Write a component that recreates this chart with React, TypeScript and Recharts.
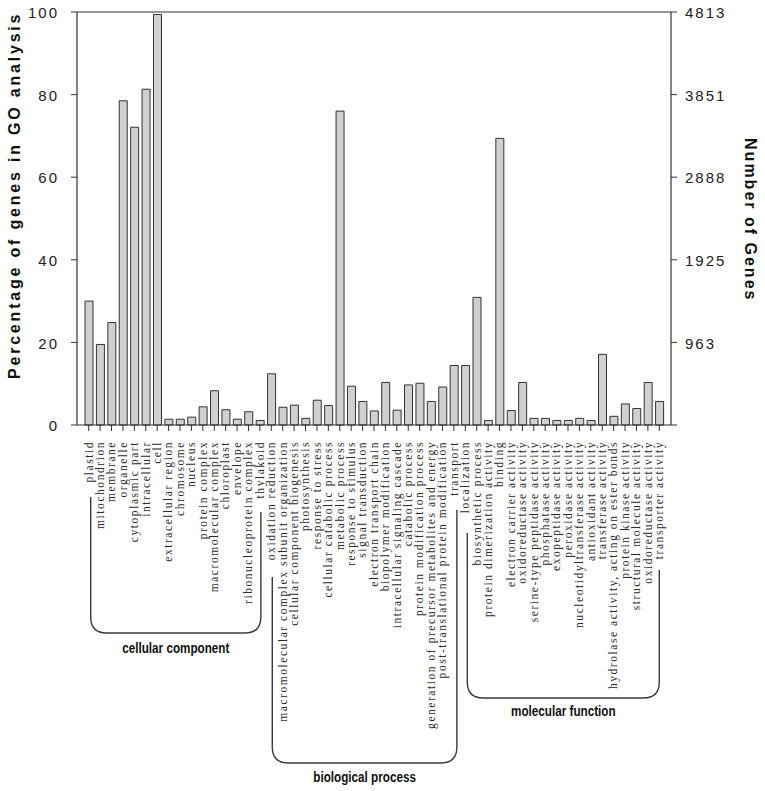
import React from 'react';
import { ComposedChart, Bar, Line, XAxis, YAxis, ReferenceLine } from 'recharts';

// ---- data ----
const categories: string[] = [
  'plastid', 'mitochondrion', 'membrane', 'organelle', 'cytoplasmic part', 'intracellular', 'cell',
  'extracellular region', 'chromosome', 'nucleus', 'protein complex', 'macromolecular complex',
  'chloroplast', 'envelope', 'ribonucleoprotein complex', 'thylakoid',
  'oxidation reduction', 'macromolecular complex subunit organization', 'cellular component biogenesis',
  'photosynthesis', 'response to stress', 'cellular catabolic process', 'metabolic process',
  'response to stimulus', 'signal transduction', 'electron transport chain', 'biopolymer modification',
  'intracellular signaling cascade', 'catabolic process', 'protein modification process',
  'generation of precursor metabolites and energy', 'post-translational protein modification',
  'transport', 'localization', 'biosynthetic process',
  'protein dimerization activity', 'binding', 'electron carrier activity', 'oxidoreductase activity',
  'serine-type peptidase activity', 'phosphatase activity', 'exopeptidase activity', 'peroxidase activity',
  'nucleotidyltransferase activity', 'antioxidant activity', 'transferase activity',
  'hydrolase activity, acting on ester bonds', 'protein kinase activity', 'structural molecule activity',
  'oxidoreductase activity', 'transporter activity',
];

const percentages: number[] = [
  30.0, 19.5, 24.8, 78.5, 72.1, 81.3, 99.4,
  1.4, 1.4, 1.9, 4.4, 8.3,
  3.7, 1.4, 3.2, 1.1,
  12.4, 4.3, 4.8,
  1.6, 6.0, 4.7, 76.0,
  9.4, 5.7, 3.4, 10.3,
  3.6, 9.7, 10.1,
  5.7, 9.2,
  14.4, 14.4, 30.9,
  1.1, 69.4, 3.5, 10.3,
  1.6, 1.6, 1.1, 1.1,
  1.6, 1.1, 17.1,
  2.1, 5.1, 4.0,
  10.3, 5.7,
];

const percentTicks: number[] = [0, 20, 40, 60, 80, 100];
const geneTickLabels: string[] = ['', '963', '1925', '2888', '3851', '4813'];

const groupNames: string[] = ['cellular component', 'biological process', 'molecular function'];
const groupFirst: number[] = [0, 16, 33];
const groupLast: number[] = [15, 32, 50];

// ---- layout / style (not data) ----
const bracketLayout = [
  { dxL: 2, dxR: 1, yL: 497, yR: 512, yB: 633, labelY: 653 },
  { dxL: 1, dxR: 3, yL: 577, yR: 510, yB: 763, labelY: 782 },
  { dxL: 2, dxR: 0, yL: 533, yR: 570, yB: 698, labelY: 716 },
];

const data = categories.map((name, i) => ({ key: String(i), name, pct: percentages[i] }));

const tickXs: Record<number, number> = {};

const AXIS = '#333333';

function CategoryTick(props: any) {
  const { x, y, index } = props;
  tickXs[index] = x;
  const label = categories[index];
  const parts: React.ReactNode[] = [
    <text
      key="t"
      transform={`translate(${x},${y + 8}) rotate(-90)`}
      textAnchor="end"
      dy="0.33em"
      fontFamily="'Liberation Serif', 'Times New Roman', serif"
      fontSize={11.5}
      fill="#2a2a2a"
      style={{ letterSpacing: '1.55px' }}
    >
      {label}
    </text>,
  ];
  const g = groupLast.indexOf(index);
  if (g >= 0 && tickXs[groupFirst[g]] !== undefined) {
    const lay = bracketLayout[g];
    const L = tickXs[groupFirst[g]] + lay.dxL;
    const R = x + lay.dxR;
    const r = 16;
    const d = `M ${L} ${lay.yL} V ${lay.yB - r} Q ${L} ${lay.yB} ${L + r} ${lay.yB} H ${R - r} Q ${R} ${lay.yB} ${R} ${lay.yB - r} V ${lay.yR}`;
    const cx = (L + R) / 2;
    parts.push(<path key="b" d={d} fill="none" stroke="#3a3a3a" strokeWidth={1.4} />);
    parts.push(
      <text
        key="l"
        transform={`translate(${cx},${lay.labelY}) scale(0.78,1)`}
        textAnchor="middle"
        fontFamily="'Liberation Sans', Arial, sans-serif"
        fontWeight="bold"
        fontSize={15}
        fill="#111"
      >
        {groupNames[g]}
      </text>
    );
  }
  return <g>{parts}</g>;
}

function LeftTick(props: any) {
  const { x, y, payload } = props;
  return (
    <text
      x={x}
      y={y + 1}
      textAnchor="end"
      dy="0.35em"
      fontFamily="'Liberation Sans', Arial, sans-serif"
      fontSize={15}
      fill="#222"
      style={{ letterSpacing: '2px' }}
    >
      {payload.value}
    </text>
  );
}

function RightTick(props: any) {
  const { x, y, payload } = props;
  const idx = percentTicks.indexOf(payload.value);
  return (
    <text
      x={x}
      y={y + 1}
      textAnchor="start"
      dy="0.35em"
      fontFamily="'Liberation Sans', Arial, sans-serif"
      fontSize={15}
      fill="#222"
      style={{ letterSpacing: '2px' }}
    >
      {geneTickLabels[idx]}
    </text>
  );
}

const LeftTitle = (props: any) => {
  const vb = props.viewBox || { x: 0, y: 12, width: 77, height: 413 };
  const cx = vb.x + 19.5;
  const cy = vb.y + vb.height * 0.444;
  return (
    <text
      transform={`translate(${cx},${cy}) rotate(-90)`}
      textAnchor="middle"
      fontFamily="'Liberation Sans', Arial, sans-serif"
      fontWeight="bold"
      fontSize={16}
      fill="#111"
      style={{ letterSpacing: '2.8px' }}
    >
      Percentage of genes in GO analysis
    </text>
  );
};

const RightTitle = (props: any) => {
  const vb = props.viewBox || { x: 671, y: 12, width: 94, height: 413 };
  const cx = vb.x + 73.5;
  const cy = vb.y + vb.height * 0.503;
  return (
    <text
      transform={`translate(${cx},${cy}) rotate(90)`}
      textAnchor="middle"
      fontFamily="'Liberation Sans', Arial, sans-serif"
      fontWeight="bold"
      fontSize={16}
      fill="#111"
      style={{ letterSpacing: '2px' }}
    >
      Number of Genes
    </text>
  );
};

export default function App() {
  return (
    <div style={{ position: 'absolute', left: 0, top: 0, width: 765, height: 791, background: '#fff' }}>
      <ComposedChart
        width={765}
        height={791}
        data={data}
        margin={{ top: 12, right: 0, bottom: 0, left: 0 }}
        barSize={8}
      >
        <XAxis
          dataKey="key"
          interval={0}
          height={366}
          tickSize={6}
          tickMargin={2}
          padding={{ left: 6, right: 6 }}
          axisLine={{ stroke: AXIS, strokeWidth: 1.2 }}
          tickLine={{ stroke: AXIS }}
          tick={CategoryTick}
        />
        <YAxis
          yAxisId="left"
          width={77}
          domain={[0, 100]}
          ticks={percentTicks}
          interval={0}
          tickSize={6}
          tickMargin={12}
          axisLine={{ stroke: AXIS, strokeWidth: 1.2 }}
          tickLine={{ stroke: AXIS }}
          tick={LeftTick}
          label={<LeftTitle />}
        />
        <YAxis
          yAxisId="right"
          orientation="right"
          width={94}
          domain={[0, 100]}
          ticks={percentTicks}
          interval={0}
          tickSize={6}
          tickMargin={8}
          axisLine={{ stroke: AXIS, strokeWidth: 1.2 }}
          tickLine={{ stroke: AXIS }}
          tick={RightTick}
          label={<RightTitle />}
        />
        <ReferenceLine yAxisId="left" y={100} stroke={AXIS} strokeWidth={1.2} />
        <Bar
          yAxisId="left"
          dataKey="pct"
          fill="#d0d0d0"
          stroke="#333"
          strokeWidth={1}
          isAnimationActive={false}
        />
        <Line
          yAxisId="right"
          dataKey="pct"
          stroke="none"
          dot={false}
          activeDot={false}
          legendType="none"
          isAnimationActive={false}
        />
      </ComposedChart>
    </div>
  );
}
